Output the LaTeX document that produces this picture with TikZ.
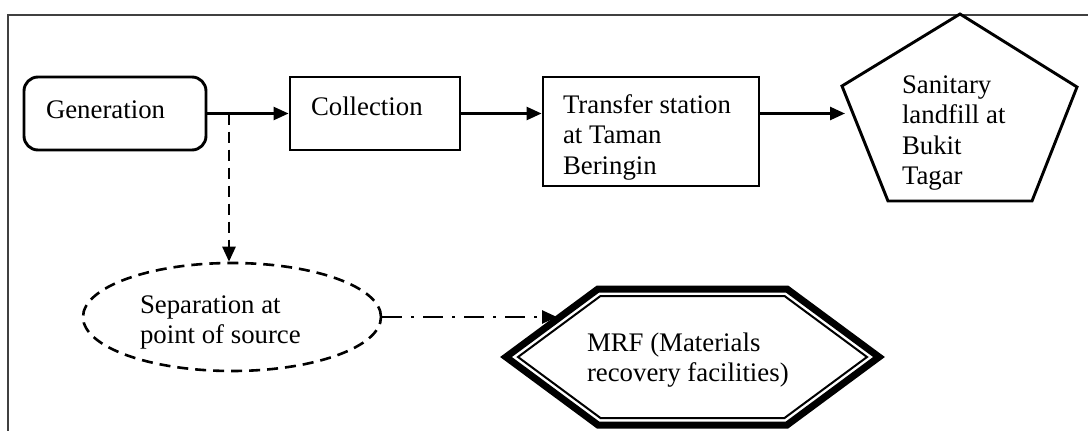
\documentclass[tikz,border=0pt]{standalone}
\usepackage{fontspec}
\setmainfont{Liberation Serif}
\usetikzlibrary{arrows.meta,shapes.geometric}
\begin{document}
\begin{tikzpicture}[x=1pt,y=-1pt,
  lbl/.style={inner sep=0pt, outer sep=0pt, font=\fontsize{26.8}{30.5}\selectfont, align=left},
  boxshape/.style={draw, line width=2.9pt, inner sep=0pt},
  arr/.style={line width=2.6pt, -{Triangle[length=15pt,width=13pt]}},
  dashline/.style={dash pattern=on 11pt off 7pt},
  dashdot/.style={dash pattern=on 20pt off 9pt on 3pt off 9pt}
]
\useasboundingbox (0,0) rectangle (1088,431);
% frame
\draw[black!75, line width=1.3pt] (8,431) -- (8,15) -- (1088,15);

% boxes
\node[boxshape, rounded corners=14pt, minimum width=182pt, minimum height=73pt] (gen) at (115,113.5) {};
\node[boxshape, minimum width=170pt, minimum height=73pt] (col) at (375,113.5) {};
\node[boxshape, minimum width=216pt, minimum height=109pt] (trans) at (651,131.5) {};

% pentagon
\coordinate (p1) at (960,14);
\coordinate (p2) at (1077,87);
\coordinate (p3) at (1032,201);
\coordinate (p4) at (888,201);
\coordinate (p5) at (842,86);
\draw[line width=2.9pt, line join=miter] (p1) -- (p2) -- (p3) -- (p4) -- (p5) -- cycle;
\coordinate (pin) at (845,113.5);

% ellipse
\node[ellipse, draw, line width=2.6pt, dashline, inner sep=0pt, minimum width=298pt, minimum height=108pt] (sep) at (232,317) {};

% hexagon
\coordinate (h1) at (506,357);
\coordinate (h2) at (598,289);
\coordinate (h3) at (787,289);
\coordinate (h4) at (879,357);
\coordinate (h5) at (787,425);
\coordinate (h6) at (598,425);
\coordinate (g1) at (518,357);
\coordinate (g2) at (600.5,296);
\coordinate (g3) at (784.5,296);
\coordinate (g4) at (867,357);
\coordinate (g5) at (784.5,418);
\coordinate (g6) at (600.5,418);
\coordinate (hin) at (557,317);

% connectors
\coordinate (br) at (229,113.5);
\draw[arr] (gen.east) -- (col.west);
\draw[arr] (col.east) -- (col.east -| trans.west);
\draw[arr] (trans.east |- col.east) -- (pin);
\draw[arr, dashline] (br) -- (br |- sep.north);
\draw[arr, dashdot] (sep.east) -- (hin);

\draw[line width=7pt, line join=miter] (h1) -- (h2) -- (h3) -- (h4) -- (h5) -- (h6) -- cycle;
\draw[line width=2pt, line join=miter] (g1) -- (g2) -- (g3) -- (g4) -- (g5) -- (g6) -- cycle;

% texts
\node[lbl, anchor=base west] (tgen) at (46,118) {Generation};
\node[lbl, anchor=base west] (tcol) at (311,115) {Collection};
\node[lbl, anchor=north west] (ttrans) at (563,91) {\rule{0pt}{22pt}Transfer station\\at Taman\\Beringin};
\node[lbl, anchor=north west] (tpent) at (902,71) {\rule{0pt}{22pt}Sanitary\\landfill at\\Bukit\\Tagar};
\node[lbl, anchor=north west] (tsep) at (140,291) {\rule{0pt}{22pt}Separation at\\point of source};
\node[lbl, anchor=north west] (tmrf) at (587,329) {\rule{0pt}{22pt}MRF (Materials\\recovery facilities)};
\end{tikzpicture}
\end{document}
